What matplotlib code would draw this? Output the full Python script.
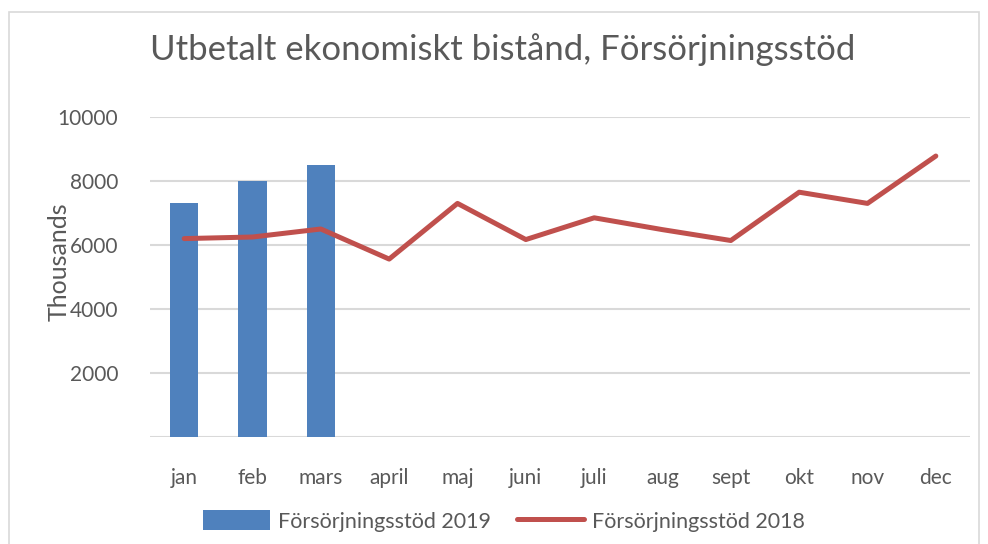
import numpy as np
import matplotlib.pyplot as plt
from matplotlib.patches import Rectangle

plt.rcParams['font.family'] = ['Lato', 'DejaVu Sans']

months = ['jan', 'feb', 'mars', 'april', 'maj', 'juni', 'juli', 'aug',
          'sept', 'okt', 'nov', 'dec']
# 2019, only first quarter reported
stod_2019 = [7320, 7990, 8490]
stod_2018 = [6200, 6250, 6500, 5560, 7300, 6170, 6850, 6480, 6140, 7650,
             7300, 8780]
yticks = [2000, 4000, 6000, 8000, 10000]

txt = '#595959'
grid = '#D9D9D9'

fig = plt.figure(figsize=(9.88, 5.44), dpi=100)
ax = fig.add_axes([150 / 988, 1 - 437 / 544, 820 / 988, 320 / 544])

# chart border like excel
fig.patches.append(Rectangle((9 / 988, -0.01), 970 / 988, 1 - 12 / 544 + 0.01,
                             transform=fig.transFigure, fill=False,
                             edgecolor='#D9D9D9', linewidth=1.2))

x = np.arange(len(months))
bars = ax.bar(x[:len(stod_2019)], stod_2019, width=0.41, color='#4F81BD',
              label='Försörjningsstöd 2019', zorder=2)
line, = ax.plot(x, stod_2018, color='#C0504D', linewidth=3.6,
                solid_capstyle='round', solid_joinstyle='round',
                label='Försörjningsstöd 2018', zorder=3)

ax.set_xlim(-0.5, len(months) - 0.5)
ax.set_ylim(0, 10000)
ax.set_yticks(yticks)
ax.set_xticks(x)
ax.set_xticklabels(months)
ax.yaxis.grid(True, color=grid, linewidth=1.5, zorder=0)
ax.axhline(0, color=grid, linewidth=1.5, zorder=1)
for s in ax.spines.values():
    s.set_visible(False)
ax.tick_params(axis='both', length=0, labelsize=15, colors=txt)
ax.tick_params(axis='x', pad=22)
ax.tick_params(axis='y', pad=23)
ax.set_ylabel('Thousands', fontsize=18, color=txt)
ax.yaxis.set_label_coords(-0.097, 0.547)

fig.text(503 / 988, 1 - 50 / 544, 'Utbetalt ekonomiskt bistånd, Försörjningsstöd',
         ha='center', va='center', fontsize=25, color=txt)

leg = fig.legend([bars, line], ['Försörjningsstöd 2019', 'Försörjningsstöd 2018'],
                 loc='center', bbox_to_anchor=(504 / 988, 1 - 521 / 544),
                 ncol=2, frameon=False, fontsize=15.5, handlelength=3.1,
                 handleheight=1.0, columnspacing=1.2, handletextpad=0.4)
for t in leg.get_texts():
    t.set_color(txt)

fig.savefig('out.png', dpi=100)
